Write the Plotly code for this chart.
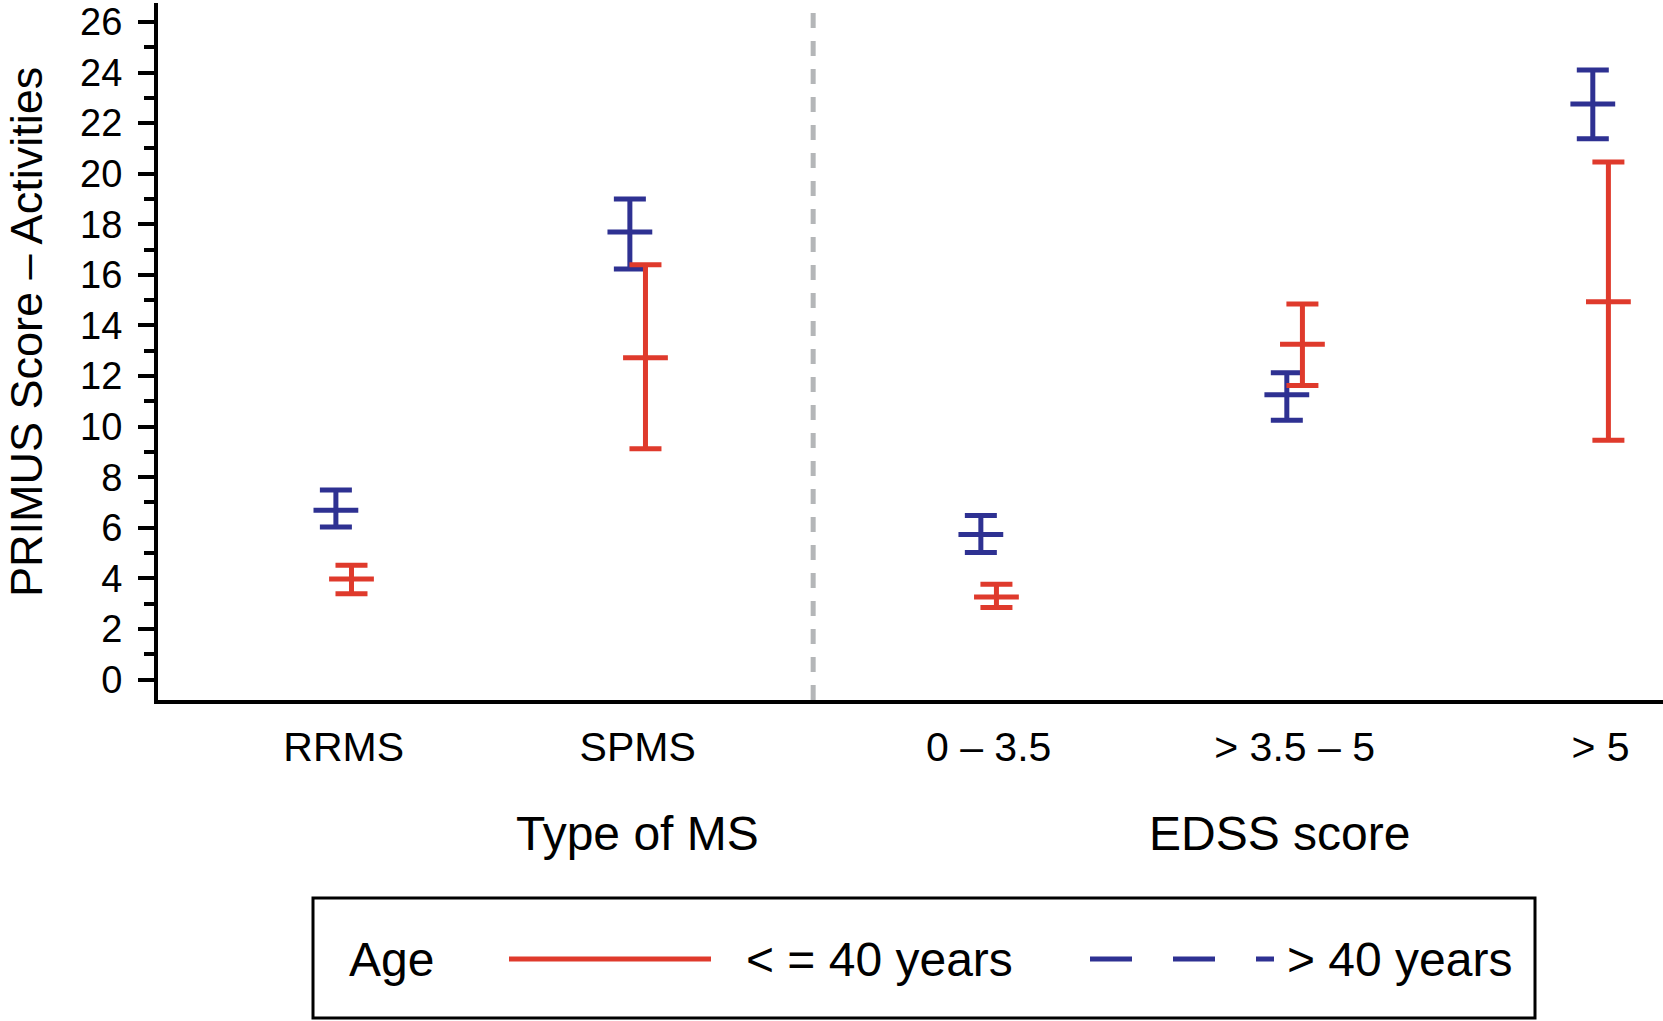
import plotly.graph_objects as go

# ---- data ----
categories = ["RRMS", "SPMS", "0 – 3.5", "> 3.5 – 5", "> 5"]
cat_pos = [0.0, 0.98, 2.15, 3.17, 4.19]   # category positions (gap between the two groups)

# <= 40 years (red)
young_mean = [3.97, 12.72, 3.26, 13.26, 14.94]
young_low = [3.39, 9.12, 2.85, 11.63, 9.46]
young_high = [4.52, 16.40, 3.77, 14.85, 20.46]

# > 40 years (blue)
old_mean = [6.69, 17.70, 5.73, 11.26, 22.76]
old_low = [6.03, 16.23, 5.02, 10.25, 21.38]
old_high = [7.49, 19.00, 6.49, 12.13, 24.10]

y_ticks = list(range(0, 27, 2))
group_titles = ["Type of MS", "EDSS score"]
legend_title = "Age"
series_names = ["< = 40 years", "> 40 years"]

RED = "#DF3A2C"
BLUE = "#2E3192"
FONT = "Liberation Sans"
offset = 0.026

W, H = 1663, 1021
ML, MR, MT, MB = 158, 0, 3, 321
PW, PH = W - ML - MR, H - MT - MB


def px(xp):
    return (xp - ML) / PW


def py(yp):
    return (H - MB - yp) / PH


fig = go.Figure()


def add_series(means, lows, highs, color, name, dx):
    fig.add_trace(go.Scatter(
        x=[p + dx for p in cat_pos], y=means, mode="markers", name=name,
        showlegend=False,
        marker=dict(symbol="line-ew", size=32, color=color, line=dict(width=5, color=color)),
        error_y=dict(type="data", symmetric=False,
                     array=[h - m for h, m in zip(highs, means)],
                     arrayminus=[m - l for m, l in zip(means, lows)],
                     width=16, thickness=5, color=color),
    ))


add_series(old_mean, old_low, old_high, BLUE, series_names[1], -offset)
add_series(young_mean, young_low, young_high, RED, series_names[0], offset)

# dashed separator between groups
sep = (cat_pos[1] + cat_pos[2]) / 2
fig.add_shape(type="line", xref="x", yref="paper", x0=sep, x1=sep, y0=0, y1=1,
              line=dict(color="#B4B6B8", width=5, dash="15px,13px"), layer="below")

fig.update_xaxes(range=[-0.619, 4.398], tickvals=cat_pos, ticktext=categories,
                 showline=True, linecolor="black", linewidth=4, ticks="",
                 showgrid=False, zeroline=False, ticklabelstandoff=8,
                 tickfont=dict(family=FONT, size=41, color="black"))
fig.update_yaxes(range=[-0.81, 26.75], tickvals=y_ticks, showline=True,
                 linecolor="black", linewidth=4, ticks="outside", ticklen=16,
                 tickwidth=3.5, tickcolor="black", showgrid=False, zeroline=False,
                 minor=dict(dtick=1, ticks="outside", ticklen=10, tickwidth=3.5,
                            tickcolor="black", showgrid=False),
                 ticklabelstandoff=8, ticklabeloverflow="allow",
                 tickfont=dict(family=FONT, size=38, color="black"))

fig.add_annotation(text="PRIMUS Score – Activities", xref="paper", yref="paper",
                   x=px(26), y=py(332), xanchor="center", yanchor="middle",
                   textangle=-90, showarrow=False,
                   font=dict(family=FONT, size=45, color="black"))
fig.add_annotation(text=group_titles[0], xref="x", yref="paper", x=cat_pos[1],
                   y=py(833), xanchor="center", yanchor="middle", showarrow=False,
                   font=dict(family=FONT, size=48, color="black"))
fig.add_annotation(text=group_titles[1], xref="x", yref="paper", x=3.12,
                   y=py(833), xanchor="center", yanchor="middle", showarrow=False,
                   font=dict(family=FONT, size=48, color="black"))

# ---- legend box (drawn) ----
LY = 959
fig.add_shape(type="rect", xref="paper", yref="paper",
              x0=px(313), x1=px(1535), y0=py(1018), y1=py(898),
              line=dict(color="black", width=3), fillcolor="white", layer="above")
fig.add_annotation(text=legend_title, xref="paper", yref="paper", x=px(347), y=py(LY),
                   xanchor="left", yanchor="middle", showarrow=False,
                   font=dict(family=FONT, size=48, color="black"))
fig.add_shape(type="line", xref="paper", yref="paper", x0=px(509), x1=px(711),
              y0=py(LY), y1=py(LY), line=dict(color=RED, width=5))
fig.add_annotation(text=series_names[0], xref="paper", yref="paper", x=px(744), y=py(LY),
                   xanchor="left", yanchor="middle", showarrow=False,
                   font=dict(family=FONT, size=48, color="black"))
fig.add_shape(type="line", xref="paper", yref="paper", x0=px(1090), x1=px(1274),
              y0=py(LY), y1=py(LY), line=dict(color=BLUE, width=5, dash="42px,41px"))
fig.add_annotation(text=series_names[1], xref="paper", yref="paper", x=px(1285), y=py(LY),
                   xanchor="left", yanchor="middle", showarrow=False,
                   font=dict(family=FONT, size=48, color="black"))

fig.update_layout(
    width=W, height=H,
    margin=dict(l=ML, r=MR, t=MT, b=MB, autoexpand=False),
    plot_bgcolor="white", paper_bgcolor="white",
    font=dict(family=FONT, color="black"),
    showlegend=False,
)

fig.write_html("out.html", config={"displayModeBar": False},
               post_script="document.body.style.margin='0px';")
